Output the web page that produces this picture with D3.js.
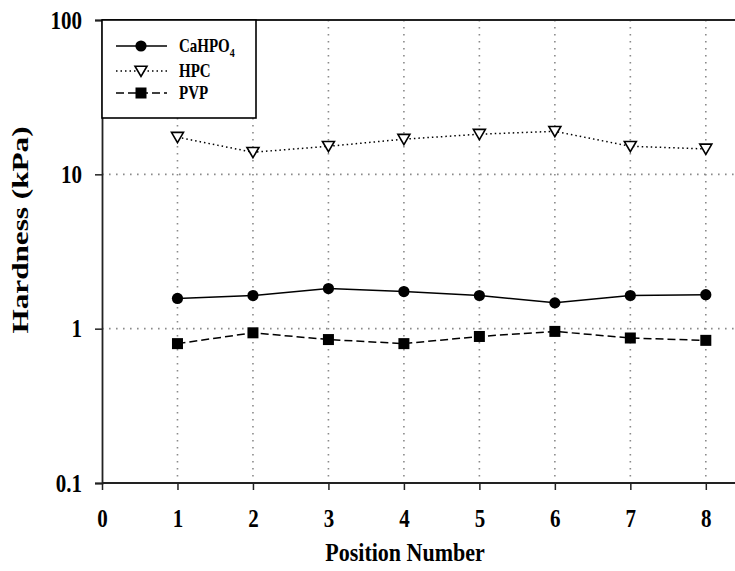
<!DOCTYPE html>
<html>
<head>
<meta charset="utf-8">
<script src="https://cdn.jsdelivr.net/npm/d3@7"></script>
<style>
  html, body { margin: 0; padding: 0; background: #fff; }
  svg { display: block; font-family: "Liberation Serif", "Times New Roman", serif; }
</style>
</head>
<body>
<svg id="chart" width="735" height="571"></svg>
<script>
// Hardness measured at each position, three formulations
const positions = [1, 2, 3, 4, 5, 6, 7, 8];
const cahpo4 = [1.57, 1.64, 1.82, 1.74, 1.64, 1.47, 1.64, 1.66];
const hpc = [17.4, 13.9, 15.2, 16.9, 18.2, 19.0, 15.2, 14.6];
const pvp = [0.80, 0.94, 0.85, 0.80, 0.89, 0.96, 0.87, 0.84];
const xTicks = [0, 1, 2, 3, 4, 5, 6, 7, 8];
const yTicks = [0.1, 1, 10, 100];
const yTickLabels = ["0.1", "1", "10", "100"];

const W = 735, H = 571;
const plotLeft = 102, plotTop = 20, plotBottom = 483;
const stretch = 1.15; // lettering is drawn slightly tall and narrow

const svg = d3.select("#chart");

const x = d3.scaleLinear().domain([0, 8.4]).range([plotLeft, 736]);
const y = d3.scaleLog().domain([0.1, 100]).range([plotBottom, plotTop]);

// grid
const grid = svg.append("g")
  .attr("stroke", "#8a8a8a")
  .attr("stroke-width", 1.6)
  .attr("stroke-dasharray", "1.6,5.4");
grid.selectAll("line.v").data(xTicks.filter(d => d > 0)).join("line")
  .attr("x1", d => x(d)).attr("x2", d => x(d))
  .attr("y1", plotTop).attr("y2", plotBottom);
grid.selectAll("line.h").data([1, 10]).join("line")
  .attr("x1", plotLeft).attr("x2", W)
  .attr("y1", d => y(d)).attr("y2", d => y(d));

// axes
const xAxis = svg.append("g")
  .attr("transform", `translate(0,${plotBottom})`)
  .call(d3.axisBottom(x).tickValues(xTicks).tickSize(7).tickFormat(d3.format("d")));
const yAxis = svg.append("g")
  .attr("transform", `translate(${plotLeft},0)`)
  .call(d3.axisLeft(y).tickValues(yTicks).tickSize(7)
    .tickFormat((d, i) => yTickLabels[i]));
[xAxis, yAxis].forEach(g => {
  g.select(".domain").attr("stroke", "#222").attr("stroke-width", 1.8);
  g.selectAll(".tick line").attr("stroke", "#222").attr("stroke-width", 1.5);
  g.selectAll(".tick text")
    .attr("fill", "#000")
    .attr("font-family", "Liberation Serif, Times New Roman, serif")
    .attr("font-weight", "bold")
    .attr("font-size", 21)
    .attr("x", 0).attr("y", 0).attr("dy", null);
});
xAxis.selectAll(".tick text")
  .attr("text-anchor", "middle")
  .attr("transform", `translate(0,44) scale(1,${stretch})`);
yAxis.selectAll(".tick text")
  .attr("text-anchor", "end")
  .attr("transform", `translate(-20,8) scale(1,${stretch})`);
xAxis.select(".domain").attr("d", `M${plotLeft},0H${W}`);

// top frame
svg.append("line")
  .attr("x1", plotLeft).attr("x2", W)
  .attr("y1", plotTop).attr("y2", plotTop)
  .attr("stroke", "#222").attr("stroke-width", 1.8);

// axis titles
svg.append("text")
  .attr("transform", `translate(405,561) scale(1,${stretch})`)
  .attr("text-anchor", "middle")
  .attr("font-weight", "bold").attr("font-size", 22)
  .text("Position Number");
svg.append("text")
  .attr("transform", "translate(28,230) rotate(-90) scale(1.3,1)")
  .attr("text-anchor", "middle")
  .attr("font-weight", "bold").attr("font-size", 24)
  .text("Hardness (kPa)");

// series
const series = [
  { name: "CaHPO", sub: "4", values: cahpo4, dash: null, marker: "circle" },
  { name: "HPC", sub: null, values: hpc, dash: "1.5,3", marker: "triangle" },
  { name: "PVP", sub: null, values: pvp, dash: "8,4", marker: "square" }
];

const line = d3.line().x(d => x(d[0])).y(d => y(d[1]));

function drawMarker(g, type, cx, cy) {
  if (type === "circle") {
    g.append("circle").attr("cx", cx).attr("cy", cy).attr("r", 5.6).attr("fill", "#000");
  } else if (type === "square") {
    g.append("rect").attr("x", cx - 5.5).attr("y", cy - 5.5)
      .attr("width", 11).attr("height", 11).attr("fill", "#000");
  } else {
    const s = 6;
    g.append("path")
      .attr("d", `M${cx - s},${cy - s * 0.8}L${cx + s},${cy - s * 0.8}L${cx},${cy + s * 0.9}Z`)
      .attr("fill", "#fff").attr("stroke", "#000").attr("stroke-width", 1.6)
      .attr("stroke-linejoin", "miter");
  }
}

series.forEach(s => {
  const pts = positions.map((p, i) => [p, s.values[i]]);
  svg.append("path")
    .datum(pts)
    .attr("d", line)
    .attr("fill", "none")
    .attr("stroke", "#000")
    .attr("stroke-width", 1.5)
    .attr("stroke-dasharray", s.dash);
  const mg = svg.append("g");
  pts.forEach(p => drawMarker(mg, s.marker, x(p[0]), y(p[1])));
});

// legend
const lg = svg.append("g");
lg.append("rect")
  .attr("x", plotLeft).attr("y", plotTop)
  .attr("width", 154).attr("height", 98)
  .attr("fill", "#fff").attr("stroke", "#000").attr("stroke-width", 1.6);
const rowsY = [46, 71, 93];
series.forEach((s, i) => {
  const yy = rowsY[i];
  lg.append("line")
    .attr("x1", 116).attr("x2", 167).attr("y1", yy).attr("y2", yy)
    .attr("stroke", "#000").attr("stroke-width", 1.5)
    .attr("stroke-dasharray", s.dash);
  drawMarker(lg, s.marker, 141, yy);
  const t = lg.append("text")
    .attr("transform", `translate(179,${yy + 6}) scale(1,${stretch + 0.05})`)
    .attr("font-weight", "bold").attr("font-size", 15)
    .text(s.name);
  if (s.sub) {
    t.append("tspan").attr("font-size", 10).attr("dy", 4).text(s.sub);
  }
});
</script>
</body>
</html>
